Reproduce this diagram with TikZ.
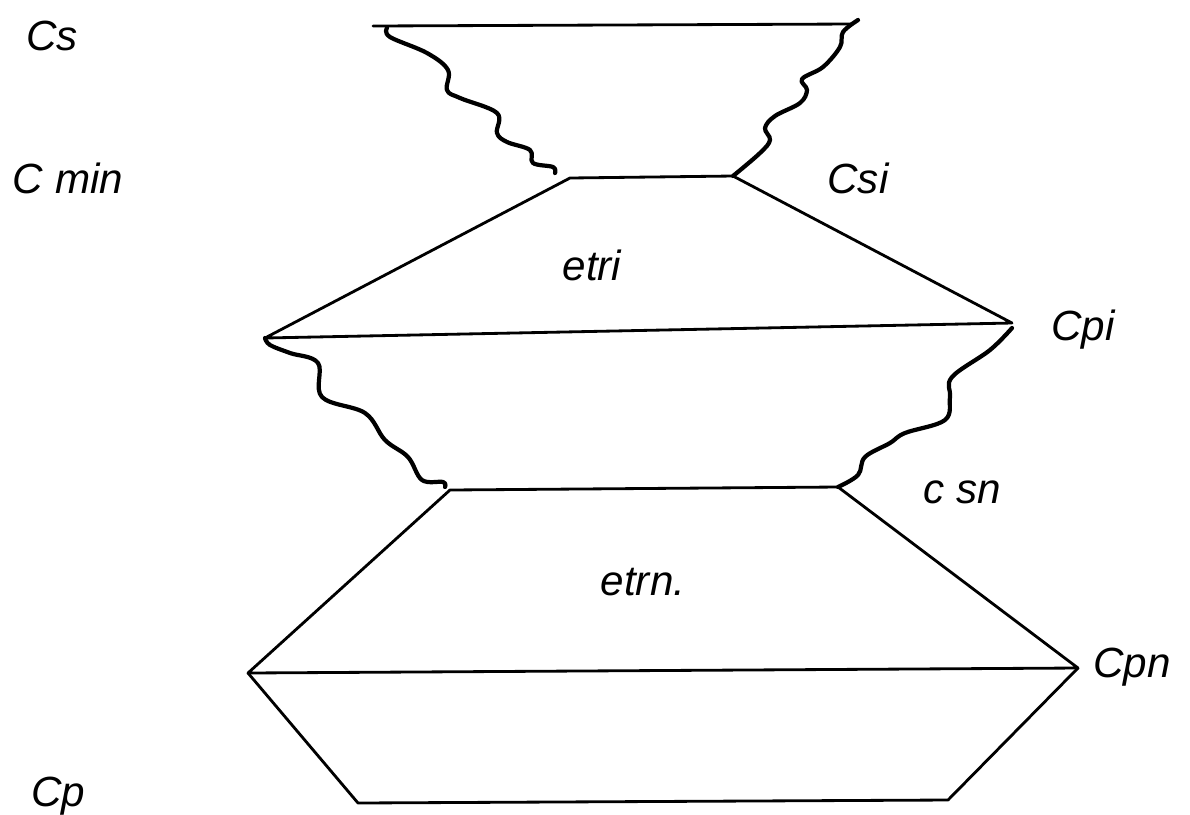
\documentclass[tikz,border=0pt]{standalone}
\usepackage{fontspec}
\setsansfont{Liberation Sans}
\usetikzlibrary{positioning,calc}

\begin{document}
\begin{tikzpicture}[x=0.01cm,y=-0.01cm,line join=round,line cap=round]
    \tikzset{edge/.style={line width=0.8pt},
      wave/.style={line width=1.2pt},
      lab/.style={font=\sffamily\itshape\large}}
    \useasboundingbox (0,0) rectangle (1190,814);
    % corner points of the profile
    \coordinate (stl) at (373,26);   \coordinate (str) at (852,24);
    \coordinate (mnl) at (570,178);  \coordinate (mnr) at (733,176);
    \coordinate (pil) at (265,338);  \coordinate (pir) at (1012,323);
    \coordinate (snl) at (450,490);  \coordinate (snr) at (838,487);
    \coordinate (pnl) at (248,673);  \coordinate (pnr) at (1078,668);
    \coordinate (pbl) at (358,803);  \coordinate (pbr) at (948,800);
    % straight edges
    \draw[edge] (stl) -- (str);
    \draw[edge] (pil) -- (mnl) -- (mnr) -- (pir) -- cycle;
    \draw[edge] (pnl) -- (snl) -- (snr) -- (pnr) -- cycle;
    \draw[edge] (pnl) -- (pbl) -- (pbr) -- (pnr);
    % wavy sides
    \draw[wave] plot[smooth,tension=0.6] coordinates {(387,28) (390,37) (427,53) (448,70) (447,90) (460,98) (497,113) (497,133) (507,142) (530,150) (533,163) (553,167) (555,173)};
    \draw[wave] plot[smooth,tension=0.6] coordinates {(mnr) (760,153) (770,140) (765,128) (775,116) (800,103) (807,90) (802,79) (823,67) (840,47) (843,32) (858,20)};
    \draw[wave] plot[smooth,tension=0.6] coordinates {(pil) (270,345) (290,353) (318,363) (322,397) (365,413) (385,440) (408,457) (422,480) (443,482) (445,487)};
    \draw[wave] plot[smooth,tension=0.6] coordinates {(snr) (858,475) (865,457) (890,443) (905,433) (945,420) (950,397) (952,377) (990,350) (1012,328)};
    % labels
    \node[lab] (cs)   at (52,36)   {Cs};
    \node[lab] (cmin) at (68,178)  {C min};
    \node[lab] (csi)  at (858,178) {Csi};
    \node[lab] (etri) at (592,265) {etri};
    \node[lab] (cpi)  at (1083,330) {Cpi};
    \node[lab] (csn)  at (962,492) {c sn};
    \node[lab] (etrn) at (643,582) {etrn.};
    \node[lab] (cpn)  at (1132,667) {Cpn};
    \node[lab] (cp)   at (58,796)  {Cp};
\end{tikzpicture}
\end{document}
